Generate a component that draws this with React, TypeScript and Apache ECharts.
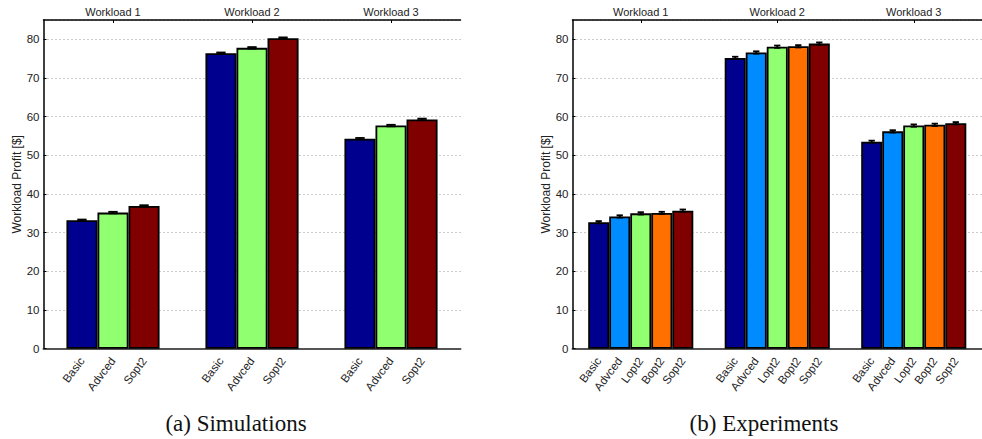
import React, { useEffect, useRef } from "react";
import * as echarts from "echarts";

const workloads = ["Workload 1", "Workload 2", "Workload 3"];

// (a) Simulations
const simMethods = ["Basic", "Advced", "Sopt2"];
const simBasic = [33.2, 76.4, 54.3];
const simAdvced = [35.2, 77.8, 57.7];
const simSopt2 = [36.9, 80.3, 59.3];
const simErr = [0.2, 0.2, 0.2];

// (b) Experiments
const expMethods = ["Basic", "Advced", "Lopt2", "Bopt2", "Sopt2"];
const expBasic = [32.7, 75.2, 53.5];
const expAdvced = [34.2, 76.6, 56.2];
const expLopt2 = [35.0, 78.1, 57.7];
const expBopt2 = [35.1, 78.2, 57.9];
const expSopt2 = [35.7, 78.9, 58.3];
const expErr = [0.3, 0.3, 0.3, 0.3, 0.3];

const simColors = ["#00008f", "#90ff70", "#800000"];
const expColors = ["#00008f", "#008cff", "#90ff70", "#ff7000", "#800000"];

const yTicks = { min: 0, max: 85, interval: 10 };

const FONT = "'Liberation Sans', Arial, sans-serif";
const SERIF = "'Liberation Serif', 'DejaVu Serif', serif";

export default function App() {
  const ref = useRef<HTMLDivElement>(null);

  useEffect(() => {
    if (!ref.current) return;
    const chart = echarts.init(ref.current, undefined, { renderer: "svg" });

    const sets = [
      {
        methods: simMethods,
        values: [simBasic, simAdvced, simSopt2],
        err: simErr,
        colors: simColors,
        gap: "33%",
      },
      {
        methods: expMethods,
        values: [expBasic, expAdvced, expLopt2, expBopt2, expSopt2],
        err: expErr,
        colors: expColors,
        gap: "23%",
      },
    ];

    const grids = [
      { left: 43.5, top: 20, width: 417, height: 328.7 },
      { left: 572.5, top: 20, width: 417, height: 328.7 },
    ];

    const xAxis: any[] = [];
    const yAxis: any[] = [];
    const series: any[] = [];

    sets.forEach((set, gi) => {
      xAxis.push({
        type: "category",
        gridIndex: gi,
        data: workloads,
        position: "bottom",
        axisLine: { lineStyle: { color: "#555", width: 2 } },
        axisTick: { show: false },
        axisLabel: { show: false },
        splitLine: { show: false },
      });
      xAxis.push({
        type: "category",
        gridIndex: gi,
        data: workloads,
        position: "top",
        axisLine: { lineStyle: { color: "#000", width: 1.5 } },
        axisTick: { show: true, inside: true, length: 3, alignWithLabel: true, lineStyle: { color: "#000" } },
        axisLabel: { color: "#222", fontSize: 11, fontFamily: FONT, margin: 3 },
        splitLine: { show: false },
      });
      yAxis.push({
        type: "value",
        gridIndex: gi,
        min: yTicks.min,
        max: yTicks.max,
        interval: yTicks.interval,
        name: "Workload Profit [$]",
        nameLocation: "middle",
        nameGap: 21,
        nameTextStyle: { color: "#222", fontSize: 12, fontFamily: FONT },
        axisLine: { show: true, lineStyle: { color: "#000", width: 1.5 } },
        axisTick: { show: true, inside: true, length: 3, lineStyle: { color: "#000" } },
        axisLabel: {
          color: "#222",
          fontSize: 11.5,
          fontFamily: FONT,
          margin: 4,
          showMaxLabel: false,
          formatter: (v: number) => (v % 10 === 0 ? String(v) : ""),
        },
        splitLine: { show: true, lineStyle: { color: "#999", type: [1, 3], width: 1 } },
      });

      const n = set.methods.length;
      set.methods.forEach((m, mi) => {
        series.push({
          type: "bar",
          name: m,
          xAxisIndex: gi * 2,
          yAxisIndex: gi,
          data: set.values[mi],
          barGap: "0%",
          barCategoryGap: set.gap,
          itemStyle: { color: set.colors[mi], borderColor: "#000", borderWidth: 1.8 },
          label: {
            show: true,
            position: "bottom",
            formatter: "{a}",
            rotate: 53,
            align: "right",
            verticalAlign: "middle",
            distance: 10,
            color: "#222",
            fontSize: 11.5,
            fontFamily: FONT,
          },
          emphasis: { disabled: true },
          z: 2,
        });
      });

      const errData: number[][] = [];
      set.values.forEach((vals, mi) => {
        vals.forEach((v, ci) => errData.push([ci, mi, v, set.err[mi]]));
      });
      const gapFrac = parseFloat(set.gap) / 100;
      series.push({
        type: "custom",
        xAxisIndex: gi * 2,
        yAxisIndex: gi,
        data: errData,
        z: 5,
        silent: true,
        renderItem: (params: any, api: any) => {
          const ci = api.value(0);
          const mi = api.value(1);
          const v = api.value(2);
          const e = api.value(3);
          const band = api.size([1, 0])[0];
          const bw = (band * (1 - gapFrac)) / n;
          const c = api.coord([ci, v]);
          const x = c[0] + (mi - (n - 1) / 2) * bw;
          const yHi = api.coord([ci, v + e])[1];
          const yLo = api.coord([ci, v - e])[1];
          const cap = bw * 0.15;
          const style = { stroke: "#000", lineWidth: 1.8 };
          return {
            type: "group",
            children: [
              { type: "line", shape: { x1: x, y1: yHi, x2: x, y2: yLo }, style },
              { type: "line", shape: { x1: x - cap, y1: yHi, x2: x + cap, y2: yHi }, style },
              { type: "line", shape: { x1: x - cap, y1: yLo, x2: x + cap, y2: yLo }, style },
            ],
          };
        },
      });
    });

    chart.setOption({
      animation: false,
      grid: grids,
      xAxis,
      yAxis,
      series,
      graphic: [
        {
          type: "text",
          x: 236,
          y: 423,
          style: {
            text: "(a) Simulations",
            align: "center",
            verticalAlign: "middle",
            fill: "#111",
            font: "23px " + SERIF,
          },
        },
        {
          type: "text",
          x: 764,
          y: 423,
          style: {
            text: "(b) Experiments",
            align: "center",
            verticalAlign: "middle",
            fill: "#111",
            font: "23px " + SERIF,
          },
        },
      ],
    });

    return () => chart.dispose();
  }, []);

  return (
    <div
      ref={ref}
      style={{ position: "absolute", left: 0, top: 0, width: 982, height: 439, background: "#fff" }}
    />
  );
}
